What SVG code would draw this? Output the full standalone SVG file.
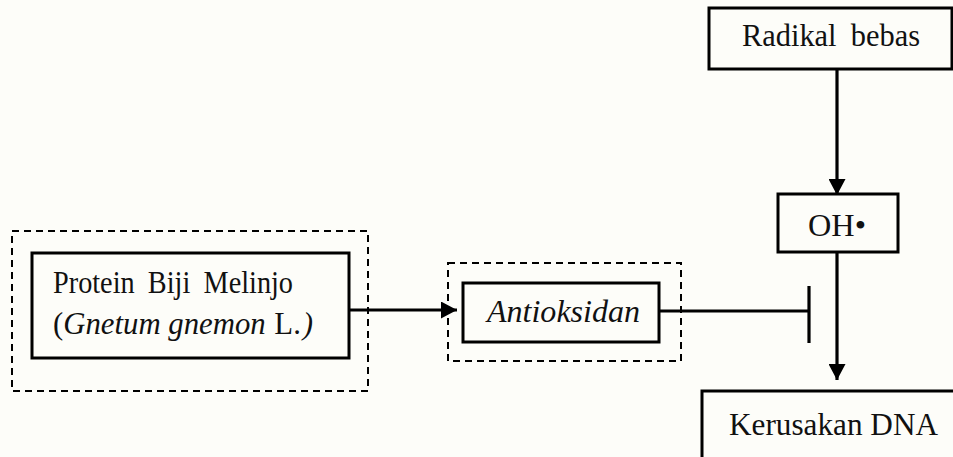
<svg xmlns="http://www.w3.org/2000/svg" width="953" height="457" viewBox="0 0 953 457">
<style>
.box{fill:none;stroke:#000;stroke-width:3}
.dash{fill:none;stroke:#000;stroke-width:2;stroke-dasharray:7 5}
.edge{fill:none;stroke:#000;stroke-width:3.2}
.t{font-family:"Liberation Serif","Times New Roman",serif;font-size:32px;fill:#111}
.w{word-spacing:7px}
.i{font-style:italic}
</style>
<defs>
<marker id="arr" markerUnits="userSpaceOnUse" markerWidth="17" markerHeight="17" refX="16" refY="8.5" orient="auto">
<path d="M0,0 L16,8.5 L0,17 Z" fill="#000"/>
</marker>
</defs>
<rect width="953" height="457" fill="#fdfdf9"/>
<g id="group-protein">
<rect class="dash" x="12" y="231" width="356" height="160"/>
</g>
<g id="node-protein">
<rect class="box" x="32" y="253" width="317" height="105"/>
<text class="t w" x="53" y="293" textLength="240" lengthAdjust="spacingAndGlyphs">Protein Biji Melinjo</text>
<text class="t" x="53" y="334" textLength="260" lengthAdjust="spacingAndGlyphs">(<tspan class="i">Gnetum gnemon</tspan><tspan dx="9">L.</tspan><tspan class="i" dx="2">)</tspan></text>
</g>
<g id="group-antioksidan">
<rect class="dash" x="448" y="263" width="233" height="98"/>
</g>
<g id="node-antioksidan">
<rect class="box" x="463" y="283" width="196" height="59"/>
<text class="t i" x="487" y="322" textLength="153" lengthAdjust="spacingAndGlyphs">Antioksidan</text>
</g>
<g id="node-radikal">
<rect class="box" x="709" y="8" width="243" height="61"/>
<text class="t w" x="742" y="46" textLength="178" lengthAdjust="spacingAndGlyphs">Radikal bebas</text>
</g>
<g id="node-oh">
<rect class="box" x="778" y="194" width="120" height="58"/>
<text class="t" x="808" y="236" textLength="58" lengthAdjust="spacingAndGlyphs">OH•</text>
</g>
<g id="node-dna">
<rect class="box" x="702" y="391" width="270" height="90"/>
<text class="t" x="729" y="435" textLength="209" lengthAdjust="spacingAndGlyphs">Kerusakan DNA</text>
</g>
<g id="connectors">
<line class="edge" x1="349" y1="310" x2="457" y2="310" marker-end="url(#arr)"/>
<line class="edge" x1="837" y1="69" x2="837" y2="195" marker-end="url(#arr)"/>
<line class="edge" x1="837" y1="252" x2="837" y2="380" marker-end="url(#arr)"/>
<line class="edge" x1="659" y1="311" x2="809" y2="311"/>
<line class="edge" x1="809" y1="286" x2="809" y2="343"/>
</g>
</svg>
